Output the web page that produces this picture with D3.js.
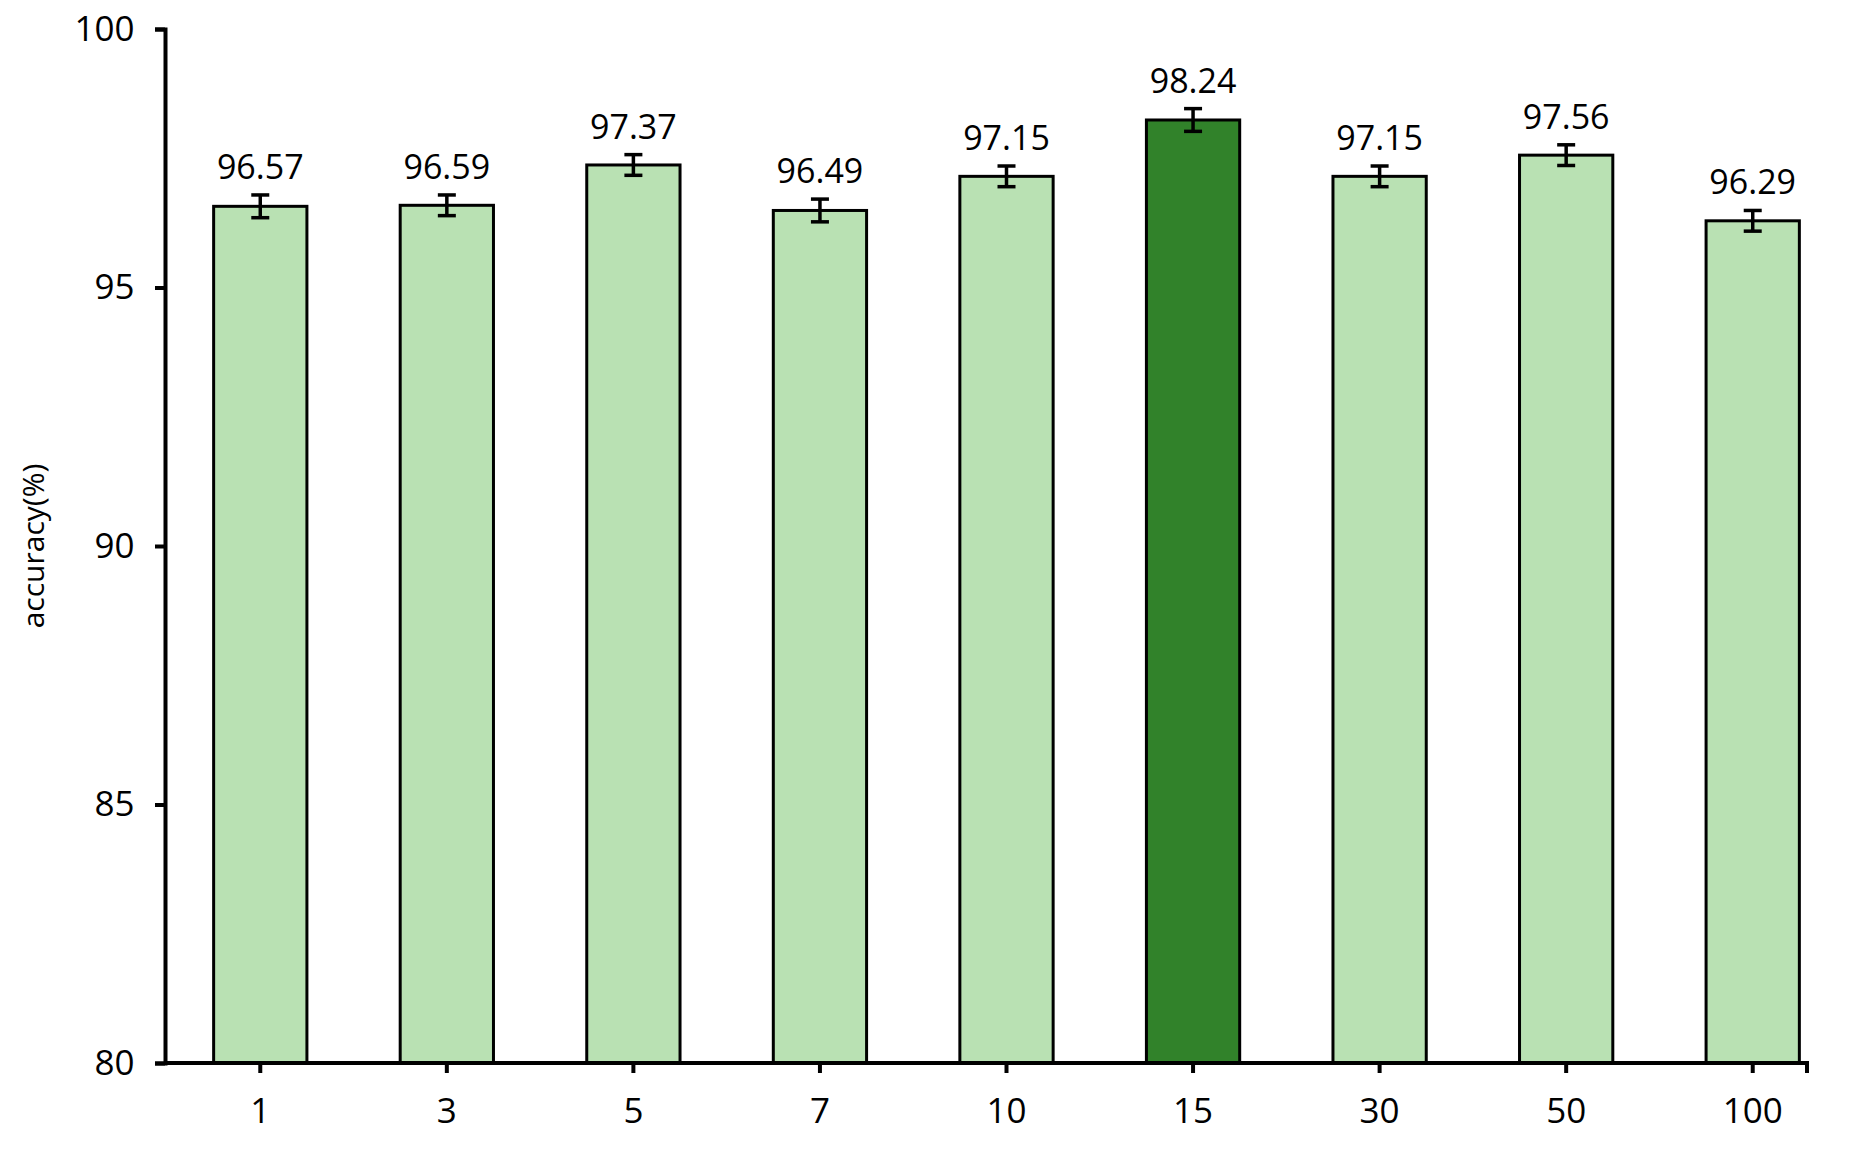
<!DOCTYPE html>
<html><head><meta charset="utf-8">
<script src="https://cdn.jsdelivr.net/npm/d3@7"></script>
<style>body{margin:0;background:#fff}text{font-family:"Open Sans",sans-serif;fill:#000}</style>
</head><body><div id="chart"></div>
<script>
const categories = ["1", "3", "5", "7", "10", "15", "30", "50", "100"];
const accuracy = [96.57, 96.59, 97.37, 96.49, 97.15, 98.24, 97.15, 97.56, 96.29];
const errors = [0.22, 0.2, 0.2, 0.22, 0.2, 0.22, 0.2, 0.2, 0.2];
const yTicks = [80, 85, 90, 95, 100];
const highlight = "15";

const W = 1862, H = 1157;
const margin = { top: 29, right: 55, bottom: 94, left: 165 };
const width = W - margin.left - margin.right;
const height = H - margin.top - margin.bottom;

const svg = d3.select("#chart").append("svg").attr("width", W).attr("height", H)
    .append("g").attr("transform", `translate(${margin.left},${margin.top})`);

// band range slightly shorter than the axis line, as in the reference
const x = d3.scaleBand().domain(categories).range([2, 1681]).paddingInner(0.5).paddingOuter(0.25);
const y = d3.scaleLinear().domain([80, 100]).range([height, 0]);

// bars
svg.selectAll(".bar").data(categories).enter().append("rect")
    .attr("x", d => x(d)).attr("width", x.bandwidth())
    .attr("y", (d, i) => y(accuracy[i])).attr("height", (d, i) => height - y(accuracy[i]))
    .attr("fill", d => d === highlight ? "#31822a" : "#b9e1b3")
    .attr("stroke", "#000").attr("stroke-width", 3);

// error bars
const eb = svg.selectAll(".err").data(categories).enter().append("g")
    .attr("transform", d => `translate(${x(d) + x.bandwidth() / 2},0)`)
    .attr("stroke", "#000").attr("stroke-width", 3.5);
eb.append("line").attr("y1", (d, i) => y(accuracy[i] + errors[i])).attr("y2", (d, i) => y(accuracy[i] - errors[i]));
eb.append("line").attr("x1", -9).attr("x2", 9).attr("y1", (d, i) => y(accuracy[i] + errors[i])).attr("y2", (d, i) => y(accuracy[i] + errors[i]));
eb.append("line").attr("x1", -9).attr("x2", 9).attr("y1", (d, i) => y(accuracy[i] - errors[i])).attr("y2", (d, i) => y(accuracy[i] - errors[i]));

// value labels
svg.selectAll(".val").data(categories).enter().append("text")
    .attr("x", d => x(d) + x.bandwidth() / 2)
    .attr("y", (d, i) => y(accuracy[i] + errors[i]) - 16)
    .attr("text-anchor", "middle").attr("font-size", 34)
    .text((d, i) => accuracy[i].toFixed(2));

// axes
const xAxis = svg.append("g").attr("transform", `translate(0,${height})`)
    .call(d3.axisBottom(x).tickSize(10).tickSizeOuter(0));
xAxis.select(".domain").remove();
xAxis.append("path").attr("d", `M0,0H${width}V10`).attr("fill", "none");
const yAxis = svg.append("g")
    .call(d3.axisLeft(y).tickValues(yTicks).tickSize(10).tickSizeOuter(10));
[xAxis, yAxis].forEach(a => {
    a.selectAll("path,line").attr("stroke", "#000").attr("stroke-width", 4);
    a.selectAll("text").attr("font-size", 35).attr("font-family", "Open Sans").attr("fill", "#000");
});
xAxis.selectAll("text").attr("dy", "1.35em");
yAxis.selectAll("text").attr("dx", "-0.5em");

svg.append("text").attr("transform", "rotate(-90)")
    .attr("x", -height / 2).attr("y", -margin.left + 44)
    .attr("text-anchor", "middle").attr("font-size", 30).text("accuracy(%)");
</script></body></html>
